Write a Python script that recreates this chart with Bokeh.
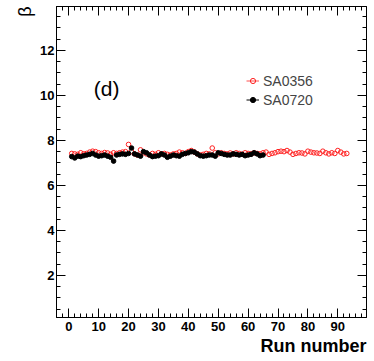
from bokeh.plotting import figure
from bokeh.models import (Range1d, LinearAxis, SingleIntervalTicker, Label,
                          Legend, LegendItem, ColumnDataSource, Title,
                          CustomJSTickFormatter)
from bokeh.embed import file_html
from bokeh.resources import INLINE

# ---- data ----
runs_sa0356 = list(range(1, 94))
beta_sa0356 = [7.42, 7.40, 7.38, 7.45, 7.40, 7.42, 7.48, 7.52, 7.50, 7.45,
               7.42, 7.46, 7.44, 7.38, 7.45, 7.42, 7.45, 7.48, 7.50, 7.82,
               7.50, 7.40, 7.35, 7.58, 7.45, 7.40, 7.35, 7.42, 7.38, 7.45,
               7.40, 7.42, 7.38, 7.35, 7.40, 7.42, 7.48, 7.45, 7.42, 7.50,
               7.55, 7.48, 7.40, 7.35, 7.38, 7.42, 7.40, 7.66, 7.45, 7.40,
               7.45, 7.42, 7.40, 7.44, 7.40, 7.45, 7.42, 7.38, 7.45, 7.42,
               7.40, 7.45, 7.42, 7.40, 7.45, 7.48, 7.38, 7.42, 7.45, 7.50,
               7.52, 7.50, 7.55, 7.48, 7.38, 7.42, 7.45, 7.44, 7.40, 7.52,
               7.48, 7.45, 7.44, 7.42, 7.52, 7.45, 7.40, 7.45, 7.42, 7.55,
               7.48, 7.40, 7.42]
runs_sa0720 = list(range(1, 66))
beta_sa0720 = [7.28, 7.22, 7.30, 7.28, 7.32, 7.35, 7.38, 7.42, 7.35, 7.30,
               7.32, 7.35, 7.30, 7.25, 7.08, 7.35, 7.38, 7.40, 7.38, 7.42,
               7.66, 7.40, 7.35, 7.30, 7.50, 7.45, 7.35, 7.28, 7.30, 7.32,
               7.40, 7.35, 7.25, 7.30, 7.35, 7.32, 7.30, 7.38, 7.42, 7.45,
               7.50, 7.48, 7.40, 7.32, 7.30, 7.32, 7.35, 7.35, 7.30, 7.45,
               7.42, 7.38, 7.35, 7.35, 7.40, 7.38, 7.35, 7.38, 7.32, 7.35,
               7.38, 7.45, 7.40, 7.32, 7.35]
series_labels = ["SA0356", "SA0720"]
panel_tag = "(d)"
x_title = "Run number"
y_title = "β"

FONT = "Liberation Sans"
X0, X1 = -4.1, 99.6
Y0, Y1 = 0.13, 13.95

p = figure(width=374, height=361, output_backend="svg", toolbar_location=None,
           x_range=Range1d(X0, X1), y_range=Range1d(Y0, Y1),
           min_border_left=56, min_border_right=8, min_border_top=6,
           min_border_bottom=44, background_fill_color="white",
           border_fill_color="white")
p.grid.visible = False
p.outline_line_color = "black"
p.outline_line_width = 1


def style_axis(ax, labels=True):
    ax.axis_line_color = "black"
    ax.major_tick_line_color = "black"
    ax.minor_tick_line_color = "black"
    ax.major_tick_in = 9
    ax.major_tick_out = 0
    ax.minor_tick_in = 4
    ax.minor_tick_out = 0
    if labels:
        ax.major_label_text_font = FONT
        ax.major_label_text_font_style = "bold"
        ax.major_label_text_font_size = "13px"
        ax.major_label_text_color = "black"
    else:
        ax.formatter = CustomJSTickFormatter(code="return ''")
        ax.major_label_standoff = 0


p.xaxis.ticker = SingleIntervalTicker(interval=10, num_minor_ticks=5)
p.yaxis.ticker = SingleIntervalTicker(interval=2, num_minor_ticks=4)
for ax in p.xaxis:
    style_axis(ax)
    ax.major_label_standoff = 4
for ax in p.yaxis:
    style_axis(ax)
    ax.major_label_standoff = 2

top = LinearAxis(ticker=SingleIntervalTicker(interval=10, num_minor_ticks=5))
style_axis(top, labels=False)
p.add_layout(top, "above")
right = LinearAxis(ticker=SingleIntervalTicker(interval=2, num_minor_ticks=4))
style_axis(right, labels=False)
p.add_layout(right, "right")

# axis titles as side-panel titles (right / top aligned like the ROOT original)
p.add_layout(Title(text=x_title, align="right", text_font=FONT,
                   text_font_size="18px", text_font_style="bold",
                   text_color="black", standoff=0), "below")
p.add_layout(Title(text=y_title, align="right", vertical_align="middle",
                   text_font=FONT, text_font_size="18px",
                   text_font_style="normal", text_color="black",
                   standoff=4), "left")

src_a = ColumnDataSource(dict(run=runs_sa0356, beta=beta_sa0356))
src_b = ColumnDataSource(dict(run=runs_sa0720, beta=beta_sa0720))

r_red = p.scatter(x="run", y="beta", source=src_a, marker="circle", size=4.6,
                  fill_color=None, line_color="#ff2020", line_width=1)
r_blk = p.scatter(x="run", y="beta", source=src_b, marker="circle", size=4.6,
                  fill_color="black", line_color="black", line_width=1)

# placeholder line renderers (a single NaN point draws nothing) that only
# supply the line part of the legend's "-o-" glyphs
nan = float("nan")
l_red = p.line(x=[nan], y=[nan], line_color="#ff5050", line_width=1)
l_blk = p.line(x=[nan], y=[nan], line_color="black", line_width=1)

legend = Legend(items=[LegendItem(label=series_labels[0], renderers=[l_red, r_red]),
                       LegendItem(label=series_labels[1], renderers=[l_blk, r_blk])],
                location=(190, 208), padding=0, margin=0, spacing=0,
                border_line_color=None, background_fill_alpha=0,
                label_text_font=FONT, label_text_font_size="14px",
                glyph_width=13, glyph_height=19, label_height=19,
                label_standoff=4)
p.add_layout(legend)

p.add_layout(Label(x=8.4, y=10.32, text=panel_tag, text_font=FONT,
                   text_font_size="21px", text_baseline="middle",
                   text_align="left", text_color="black"))

open("out.html", "w").write(file_html(p, INLINE))
